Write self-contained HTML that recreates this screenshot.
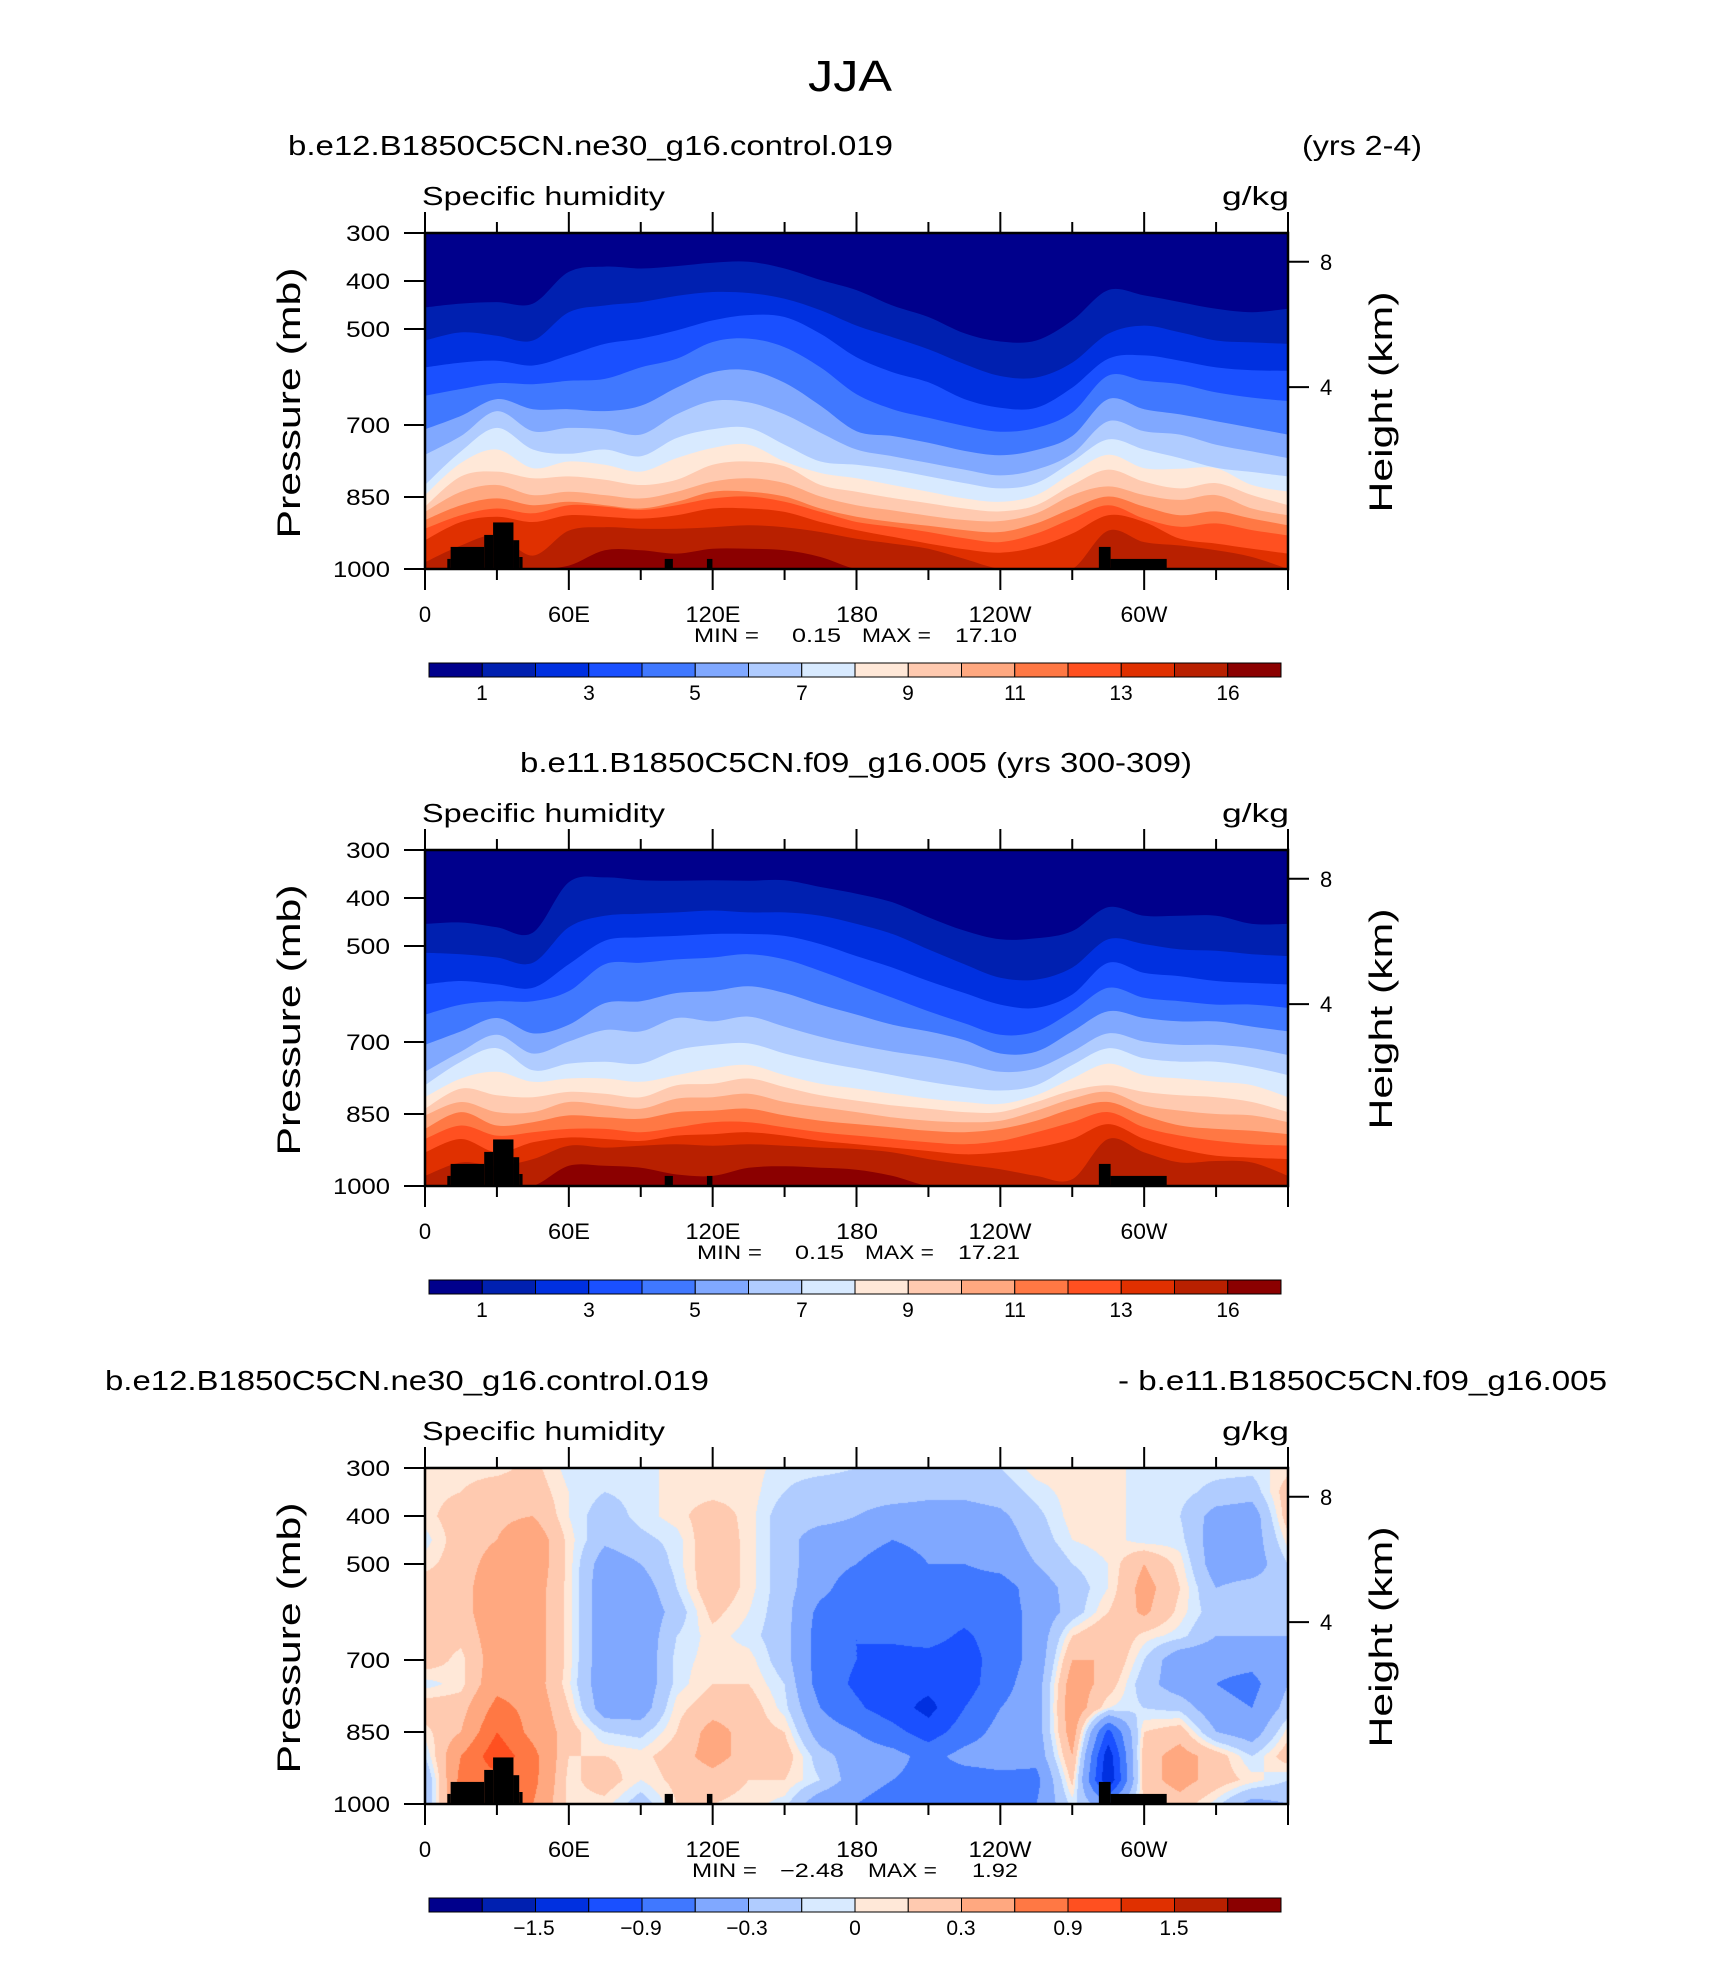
<!DOCTYPE html>
<html><head><meta charset="utf-8"><title>JJA Specific humidity</title>
<style>
html,body{margin:0;padding:0;background:#fff;}
#wrap{position:relative;width:1710px;height:1974px;overflow:hidden;background:#fff;}
#diff-canvas{position:absolute;left:425px;top:1468px;}
svg{position:absolute;left:0;top:0;}
text{font-family:"Liberation Sans",sans-serif;fill:#000;}
</style></head>
<body>
<div id="wrap">
<canvas id="diff-canvas" width="863" height="336"></canvas>
<svg id="fig" width="1710" height="1974" viewBox="0 0 1710 1974">
<text x="850" y="91" font-size="44" text-anchor="middle" textLength="84" lengthAdjust="spacingAndGlyphs">JJA</text>

<text x="288" y="155" font-size="28" textLength="605" lengthAdjust="spacingAndGlyphs">b.e12.B1850C5CN.ne30_g16.control.019</text>
<text x="1302" y="155" font-size="28" textLength="120" lengthAdjust="spacingAndGlyphs">(yrs 2-4)</text>
<text x="520" y="772" font-size="28" textLength="672" lengthAdjust="spacingAndGlyphs">b.e11.B1850C5CN.f09_g16.005 (yrs 300-309)</text>
<text x="105" y="1390" font-size="28" textLength="604" lengthAdjust="spacingAndGlyphs">b.e12.B1850C5CN.ne30_g16.control.019</text>
<text x="1118" y="1390" font-size="28" textLength="489" lengthAdjust="spacingAndGlyphs">- b.e11.B1850C5CN.f09_g16.005</text>

<g id="panel1-static">
<text x="422" y="205" font-size="26" textLength="243" lengthAdjust="spacingAndGlyphs">Specific humidity</text>
<text x="1222" y="205" font-size="26" textLength="67" lengthAdjust="spacingAndGlyphs">g/kg</text>
<g font-size="22" text-anchor="end">
<text x="390" y="241" textLength="44" lengthAdjust="spacingAndGlyphs">300</text>
<text x="390" y="289" textLength="44" lengthAdjust="spacingAndGlyphs">400</text>
<text x="390" y="337" textLength="44" lengthAdjust="spacingAndGlyphs">500</text>
<text x="390" y="433" textLength="44" lengthAdjust="spacingAndGlyphs">700</text>
<text x="390" y="505" textLength="44" lengthAdjust="spacingAndGlyphs">850</text>
<text x="390" y="577" textLength="57" lengthAdjust="spacingAndGlyphs">1000</text>
</g>
<g font-size="22">
<text x="1320" y="270">8</text><text x="1320" y="395">4</text>
</g>
<g font-size="22" text-anchor="middle">
<text x="425" y="622">0</text>
<text x="569" y="622" textLength="42" lengthAdjust="spacingAndGlyphs">60E</text>
<text x="713" y="622" textLength="55" lengthAdjust="spacingAndGlyphs">120E</text>
<text x="857" y="622" textLength="42" lengthAdjust="spacingAndGlyphs">180</text>
<text x="1000" y="622" textLength="63" lengthAdjust="spacingAndGlyphs">120W</text>
<text x="1144" y="622" textLength="47" lengthAdjust="spacingAndGlyphs">60W</text>
</g>
<g font-size="19">
<text x="694" y="642" textLength="65" lengthAdjust="spacingAndGlyphs">MIN =</text>
<text x="792" y="642" textLength="49" lengthAdjust="spacingAndGlyphs">0.15</text>
<text x="862" y="642" textLength="69" lengthAdjust="spacingAndGlyphs">MAX =</text>
<text x="955" y="642" textLength="62" lengthAdjust="spacingAndGlyphs">17.10</text>
</g>
<g font-size="21" text-anchor="middle">
<text x="482" y="700">1</text><text x="589" y="700">3</text><text x="695" y="700">5</text><text x="802" y="700">7</text>
<text x="908" y="700">9</text><text x="1015" y="700">11</text><text x="1121" y="700">13</text><text x="1228" y="700">16</text>
</g>
<text transform="translate(300,403) rotate(-90)" font-size="32" text-anchor="middle" textLength="271" lengthAdjust="spacingAndGlyphs">Pressure (mb)</text>
<text transform="translate(1392,402) rotate(-90)" font-size="32" text-anchor="middle" textLength="221" lengthAdjust="spacingAndGlyphs">Height (km)</text>
</g>

<g transform="translate(0,617)">
<text x="422" y="205" font-size="26" textLength="243" lengthAdjust="spacingAndGlyphs">Specific humidity</text>
<text x="1222" y="205" font-size="26" textLength="67" lengthAdjust="spacingAndGlyphs">g/kg</text>
<g font-size="22" text-anchor="end">
<text x="390" y="241" textLength="44" lengthAdjust="spacingAndGlyphs">300</text>
<text x="390" y="289" textLength="44" lengthAdjust="spacingAndGlyphs">400</text>
<text x="390" y="337" textLength="44" lengthAdjust="spacingAndGlyphs">500</text>
<text x="390" y="433" textLength="44" lengthAdjust="spacingAndGlyphs">700</text>
<text x="390" y="505" textLength="44" lengthAdjust="spacingAndGlyphs">850</text>
<text x="390" y="577" textLength="57" lengthAdjust="spacingAndGlyphs">1000</text>
</g>
<g font-size="22">
<text x="1320" y="270">8</text><text x="1320" y="395">4</text>
</g>
<g font-size="22" text-anchor="middle">
<text x="425" y="622">0</text>
<text x="569" y="622" textLength="42" lengthAdjust="spacingAndGlyphs">60E</text>
<text x="713" y="622" textLength="55" lengthAdjust="spacingAndGlyphs">120E</text>
<text x="857" y="622" textLength="42" lengthAdjust="spacingAndGlyphs">180</text>
<text x="1000" y="622" textLength="63" lengthAdjust="spacingAndGlyphs">120W</text>
<text x="1144" y="622" textLength="47" lengthAdjust="spacingAndGlyphs">60W</text>
</g>
<g font-size="19">
<text x="697" y="642" textLength="65" lengthAdjust="spacingAndGlyphs">MIN =</text>
<text x="795" y="642" textLength="49" lengthAdjust="spacingAndGlyphs">0.15</text>
<text x="865" y="642" textLength="69" lengthAdjust="spacingAndGlyphs">MAX =</text>
<text x="958" y="642" textLength="62" lengthAdjust="spacingAndGlyphs">17.21</text>
</g>
<g font-size="21" text-anchor="middle">
<text x="482" y="700">1</text><text x="589" y="700">3</text><text x="695" y="700">5</text><text x="802" y="700">7</text>
<text x="908" y="700">9</text><text x="1015" y="700">11</text><text x="1121" y="700">13</text><text x="1228" y="700">16</text>
</g>
<text transform="translate(300,403) rotate(-90)" font-size="32" text-anchor="middle" textLength="271" lengthAdjust="spacingAndGlyphs">Pressure (mb)</text>
<text transform="translate(1392,402) rotate(-90)" font-size="32" text-anchor="middle" textLength="221" lengthAdjust="spacingAndGlyphs">Height (km)</text>
</g>

<g transform="translate(0,1235)">
<text x="422" y="205" font-size="26" textLength="243" lengthAdjust="spacingAndGlyphs">Specific humidity</text>
<text x="1222" y="205" font-size="26" textLength="67" lengthAdjust="spacingAndGlyphs">g/kg</text>
<g font-size="22" text-anchor="end">
<text x="390" y="241" textLength="44" lengthAdjust="spacingAndGlyphs">300</text>
<text x="390" y="289" textLength="44" lengthAdjust="spacingAndGlyphs">400</text>
<text x="390" y="337" textLength="44" lengthAdjust="spacingAndGlyphs">500</text>
<text x="390" y="433" textLength="44" lengthAdjust="spacingAndGlyphs">700</text>
<text x="390" y="505" textLength="44" lengthAdjust="spacingAndGlyphs">850</text>
<text x="390" y="577" textLength="57" lengthAdjust="spacingAndGlyphs">1000</text>
</g>
<g font-size="22">
<text x="1320" y="270">8</text><text x="1320" y="395">4</text>
</g>
<g font-size="22" text-anchor="middle">
<text x="425" y="622">0</text>
<text x="569" y="622" textLength="42" lengthAdjust="spacingAndGlyphs">60E</text>
<text x="713" y="622" textLength="55" lengthAdjust="spacingAndGlyphs">120E</text>
<text x="857" y="622" textLength="42" lengthAdjust="spacingAndGlyphs">180</text>
<text x="1000" y="622" textLength="63" lengthAdjust="spacingAndGlyphs">120W</text>
<text x="1144" y="622" textLength="47" lengthAdjust="spacingAndGlyphs">60W</text>
</g>
<g font-size="19">
<text x="692" y="642" textLength="65" lengthAdjust="spacingAndGlyphs">MIN =</text>
<text x="780" y="642" textLength="64" lengthAdjust="spacingAndGlyphs">−2.48</text>
<text x="868" y="642" textLength="69" lengthAdjust="spacingAndGlyphs">MAX =</text>
<text x="972" y="642" textLength="46" lengthAdjust="spacingAndGlyphs">1.92</text>
</g>
<g font-size="21" text-anchor="middle">
<text x="534" y="700">−1.5</text><text x="641" y="700">−0.9</text><text x="747" y="700">−0.3</text><text x="855" y="700">0</text>
<text x="961" y="700">0.3</text><text x="1068" y="700">0.9</text><text x="1174" y="700">1.5</text>
</g>
<text transform="translate(300,403) rotate(-90)" font-size="32" text-anchor="middle" textLength="271" lengthAdjust="spacingAndGlyphs">Pressure (mb)</text>
<text transform="translate(1392,402) rotate(-90)" font-size="32" text-anchor="middle" textLength="221" lengthAdjust="spacingAndGlyphs">Height (km)</text>
</g>
</svg>
</div>
<script>
// ---------- data ----------
const lonSamples = [0,15,30,45,60,75,90,105,120,135,150,165,180,195,210,225,240,255,270,285,300,315,330,345,360];
const qLevels = [1,2,3,4,5,6,7,8,9,10,11,12,13,14,16];
const diffLevels = [-1.8,-1.5,-1.2,-0.9,-0.6,-0.3,-0.1,0,0.1,0.3,0.6,0.9,1.2,1.5,1.8];
const fillColors = ['#00008c','#0020b0','#0030e0','#1a50ff','#4078ff','#80a8ff','#b0ccff','#d8eaff','#ffe8d8','#ffcab0','#ffa880','#ff7844','#ff5020','#e03000','#b82000','#8b0000'];
const ctlContourP = [
[455,447,444,447,381,370,374,369,362,360,374,398,419,451,475,509,526,524,482,419,430,444,458,465,458],
[524,507,514,524,465,451,444,431,423,425,437,461,493,517,542,573,598,601,570,510,493,507,524,528,531],
[580,570,566,576,555,531,520,503,482,471,475,510,559,590,611,646,664,664,622,562,555,566,580,586,587],
[639,625,613,615,608,604,580,562,527,520,538,580,636,667,685,702,714,706,674,597,608,615,632,643,650],
[709,681,646,667,667,671,660,622,590,586,612,660,713,723,737,754,763,752,723,646,667,678,692,706,720],
[762,723,671,713,706,709,720,678,650,653,678,716,751,765,779,793,805,793,760,692,713,720,741,755,769],
[825,755,706,751,760,751,765,727,709,706,741,776,783,793,807,821,832,821,776,730,751,769,789,798,807],
[846,779,751,790,776,783,797,769,748,741,776,800,811,825,839,853,860,846,800,762,790,791,790,825,839],
[870,807,797,811,807,814,825,814,783,776,786,825,839,852,863,874,880,867,825,793,818,832,821,846,867],
[881,839,825,846,839,846,853,839,818,811,821,849,867,878,889,898,900,884,846,828,846,856,846,874,888],
[898,867,853,867,860,867,874,860,839,839,849,874,891,902,910,919,923,905,874,849,870,888,880,895,909],
[916,888,874,884,867,870,877,867,853,849,860,881,902,912,923,936,944,926,895,867,895,912,905,919,930],
[940,902,891,902,888,891,895,888,874,874,881,902,919,933,947,959,966,954,926,888,902,937,947,958,968],
[986,951,930,972,920,913,916,916,913,909,913,923,937,947,958,979,1005,1005,1005,920,944,951,961,975,1000],
[1007,1007,1007,1007,993,961,961,968,958,958,961,975,1007,1007,1007,1007,1007,1007,1007,1007,1007,1007,1007,1007,1007]
];
const refContourP = [
[454,451,461,472,367,357,363,364,363,364,363,377,391,409,440,468,486,484,469,419,437,437,437,454,454],
[514,517,524,535,461,437,433,430,426,430,430,437,454,475,507,538,566,570,545,486,496,507,510,517,521],
[580,573,580,587,538,489,482,479,475,475,479,496,521,545,573,598,622,629,601,535,556,563,573,577,580],
[643,622,615,615,594,538,535,528,524,517,528,552,580,608,636,661,685,678,636,587,608,615,622,622,629],
[706,678,650,682,664,619,615,598,594,584,598,622,643,664,678,696,724,720,678,636,650,657,657,668,678],
[762,720,685,724,699,675,678,650,657,647,668,689,706,720,731,745,762,755,720,682,699,706,706,713,727],
[790,741,713,759,745,741,745,717,706,703,724,741,755,769,783,794,801,790,748,713,734,741,741,752,769],
[815,776,762,783,776,776,783,769,755,748,769,787,797,808,818,825,829,811,776,745,769,776,783,790,815],
[839,797,811,815,804,808,815,790,787,776,794,811,822,832,839,846,846,825,801,790,804,811,815,825,846],
[853,825,846,846,825,832,839,818,815,808,825,836,846,857,864,867,864,843,818,804,832,843,850,853,867],
[881,846,874,867,853,857,860,846,843,839,853,864,871,878,885,888,881,864,839,825,853,874,881,885,892],
[902,874,895,888,881,881,888,878,867,867,878,888,895,902,909,913,906,888,867,846,878,895,906,913,916],
[930,902,930,909,899,902,906,895,892,888,895,906,913,920,927,934,930,920,902,871,902,923,937,941,944],
[979,951,958,944,916,920,916,913,916,913,916,920,923,930,944,955,965,979,986,902,930,951,948,951,979],
[1007,1007,1007,1007,958,958,962,976,979,962,959,962,966,979,1007,1007,1007,1007,1007,1007,1007,1007,1007,1007,1007]
];
const diffPressures = [300,350,400,450,500,550,600,650,700,750,800,850,900,950,1000];
const diffField = [
[0.05,0.05,0.05,-0.05,0.05,0.2,0.2,0.2,0.2,-0.05,0.2,0.05,-0.1,-0.3,-0.3],
[0.05,0.1,0.2,0.2,0.2,0.2,0.2,0.15,0.05,0.05,0.2,0.3,0.6,0.7,0.7],
[0.05,0.2,0.25,0.3,0.4,0.5,0.5,0.45,0.45,0.5,0.7,0.9,1.1,0.8,0.8],
[0.15,0.2,0.3,0.5,0.5,0.45,0.45,0.45,0.45,0.45,0.5,0.5,0.7,0.7,0.6],
[-0.05,0.0,0.0,0.05,0.05,0.05,0.05,0.05,0.05,0.02,0.1,0.2,0.1,0.05,0.05],
[-0.05,-0.1,-0.2,-0.25,-0.45,-0.5,-0.5,-0.5,-0.5,-0.5,-0.45,-0.1,0.1,0.2,0.05],
[-0.05,-0.05,-0.05,-0.15,-0.3,-0.45,-0.5,-0.5,-0.5,-0.5,-0.45,-0.15,0.05,0.0,-0.2],
[0.05,0.05,0.05,-0.05,-0.05,-0.1,-0.2,-0.1,-0.05,-0.05,0.05,0.1,0.2,0.15,0.1],
[0.05,0.05,0.2,0.25,0.25,0.25,0.15,0.05,0.05,0.1,0.2,0.4,0.4,0.2,0.1],
[0.05,0.05,0.05,0.05,0.05,0.05,0.0,-0.05,0.05,0.1,0.2,0.2,0.2,0.1,0.05],
[-0.05,-0.1,-0.2,-0.2,-0.2,-0.2,-0.2,-0.2,-0.2,-0.1,-0.05,0.1,0.2,0.1,-0.05],
[-0.05,-0.2,-0.2,-0.45,-0.45,-0.5,-0.7,-0.75,-0.75,-0.75,-0.6,-0.45,-0.2,-0.1,-0.5],
[-0.1,-0.2,-0.3,-0.45,-0.6,-0.8,-0.85,-0.9,-0.9,-0.95,-0.85,-0.6,-0.45,-0.45,-0.6],
[-0.1,-0.2,-0.4,-0.6,-0.8,-0.8,-0.8,-0.85,-1.0,-1.1,-1.05,-0.8,-0.5,-0.6,-0.75],
[-0.15,-0.25,-0.4,-0.5,-0.6,-0.75,-0.75,-0.8,-1.0,-1.1,-1.3,-1.05,-0.7,-0.7,-0.8],
[-0.15,-0.25,-0.4,-0.45,-0.6,-0.75,-0.8,-0.95,-1.05,-1.05,-0.9,-0.75,-0.5,-0.75,-0.8],
[-0.1,-0.2,-0.35,-0.45,-0.5,-0.75,-0.75,-0.75,-0.75,-0.7,-0.6,-0.5,-0.45,-0.7,-0.7],
[0.05,-0.05,-0.15,-0.2,-0.3,-0.45,-0.5,-0.5,-0.5,-0.45,-0.45,-0.45,-0.5,-0.7,-0.6],
[0.05,0.05,0.05,0.0,-0.1,-0.2,-0.2,0.1,0.3,0.45,0.5,0.45,0.3,0.15,-0.05],
[0.05,0.05,0.05,0.05,0.0,0.0,0.1,0.3,0.3,0.2,0.0,-1.0,-1.4,-1.5,-0.5],
[-0.05,-0.05,-0.05,-0.05,0.3,0.4,0.35,0.05,-0.1,-0.2,-0.1,0.1,0.2,0.2,0.1],
[-0.05,-0.05,-0.1,-0.05,0.05,0.1,0.05,-0.05,-0.5,-0.45,-0.15,0.2,0.4,0.4,0.2],
[-0.05,-0.15,-0.4,-0.45,-0.45,-0.3,-0.2,-0.3,-0.5,-0.6,-0.5,-0.3,0.2,0.2,-0.05],
[-0.05,-0.2,-0.45,-0.45,-0.45,-0.2,-0.1,-0.3,-0.5,-0.7,-0.6,-0.45,-0.1,0.05,-0.4],
[0.05,0.2,0.2,0.05,-0.1,-0.2,-0.2,-0.3,-0.3,-0.3,-0.2,0.05,0.2,-0.1,-0.3]
];
const topoLonStart = [9.3,10.7,24.7,28.4,36.9,39.3,100,117.6,281.1,286];
const topoLonEnd   = [10.7,24.7,28.4,36.9,39.3,40.7,103.4,119.9,286,309.4];
const topoPs       = [979,954,929,903,940,975,979,979,954,979];
const lonTicks = [0,30,60,90,120,150,180,210,240,270,300,330,360];
const pTicks = [300,400,500,700,850,1000];
const kmTicks = [8,4];
const kmTickP = [360,621];

// ---------- layout ----------
const PL=425, PW=863, PT=233, PH=336;
const svgNS='http://www.w3.org/2000/svg';
const svg=document.getElementById('fig');
function xOf(lon){return PL+lon/360*PW;}
function yOf(p){return PT+(Math.min(Math.max(p,300),1000)-300)/700*PH;}
function mk(tag,attrs,parent){const e=document.createElementNS(svgNS,tag);for(const k in attrs)e.setAttribute(k,attrs[k]);(parent||svg).appendChild(e);return e;}

function smoothPath(pts){
  let d='M'+pts[0][0]+','+pts[0][1];
  for(let i=0;i<pts.length-1;i++){
    const p0=pts[Math.max(i-1,0)],p1=pts[i],p2=pts[i+1],p3=pts[Math.min(i+2,pts.length-1)];
    const c1x=p1[0]+(p2[0]-p0[0])/6,c1y=p1[1]+(p2[1]-p0[1])/6;
    const c2x=p2[0]-(p3[0]-p1[0])/6,c2y=p2[1]-(p3[1]-p1[1])/6;
    d+=' C'+c1x.toFixed(1)+','+c1y.toFixed(1)+' '+c2x.toFixed(1)+','+c2y.toFixed(1)+' '+p2[0].toFixed(1)+','+p2[1].toFixed(1);
  }
  return d;
}

const defs=mk('defs',{});
[0,617,1235].forEach(function(dy,i){
  const cp=mk('clipPath',{id:'clip'+i},defs);
  mk('rect',{x:PL,y:PT+dy,width:PW,height:PH},cp);
});

function drawContours(bounds,dy,idx){
  const g=mk('g',{'clip-path':'url(#clip'+idx+')'});
  
  
  const base=mk('rect',{x:PL,y:PT+dy,width:PW,height:PH,fill:fillColors[0]},g);
  
  
  bounds.forEach(function(row,k){
    const pts=row.map(function(p,i){return [xOf(lonSamples[i]),yOf(p)+dy];});
    const d=smoothPath(pts)+' L'+(PL+PW)+','+(PT+PH+dy+2)+' L'+PL+','+(PT+PH+dy+2)+' Z';
    const path=mk('path',{d:d,fill:fillColors[k+1]},g);
    
    
  });
}
drawContours(ctlContourP,0,0);
drawContours(refContourP,617,1);

(function(){
  const cv=document.getElementById('diff-canvas');
  const ctx=cv.getContext('2d');
  const img=ctx.createImageData(PW,PH);
  const rgb=fillColors.map(function(c){return [parseInt(c.substr(1,2),16),parseInt(c.substr(3,2),16),parseInt(c.substr(5,2),16)];});
  const nL=lonSamples.length,nP=diffPressures.length;
  for(let py=0;py<PH;py++){
    const p=300+(py+0.5)/PH*700;
    let j=0;while(j<nP-2&&diffPressures[j+1]<p)j++;
    const ty=Math.min(Math.max((p-diffPressures[j])/(diffPressures[j+1]-diffPressures[j]),0),1);
    for(let px=0;px<PW;px++){
      const lon=(px+0.5)/PW*360;
      let i=0;while(i<nL-2&&lonSamples[i+1]<lon)i++;
      const tx=(lon-lonSamples[i])/(lonSamples[i+1]-lonSamples[i]);
      const v=(diffField[i][j]*(1-tx)+diffField[i+1][j]*tx)*(1-ty)+(diffField[i][j+1]*(1-tx)+diffField[i+1][j+1]*tx)*ty;
      let c=0;while(c<diffLevels.length&&v>=diffLevels[c])c++;
      const o=(py*PW+px)*4;img.data[o]=rgb[c][0];img.data[o+1]=rgb[c][1];img.data[o+2]=rgb[c][2];img.data[o+3]=255;
    }
  }
  ctx.putImageData(img,0,0);
})();

[0,617,1235].forEach(function(dy,idx){
  const tg=mk('g',{});
  
  
  topoPs.forEach(function(ps,k){
    const x0=xOf(topoLonStart[k]),x1=xOf(topoLonEnd[k]),y0=yOf(ps)+dy;
    const r=mk('rect',{x:x0,y:y0,width:x1-x0,height:PT+PH+dy-y0,fill:'#000'},tg);
    
    
  });
  const frame=mk('rect',{x:PL,y:PT+dy,width:PW,height:PH,fill:'none',stroke:'#000','stroke-width':2.5});
  
  
  const ticks=mk('g',{stroke:'#000','stroke-width':2});
  
  
  lonTicks.forEach(function(l){
    const len=(l%60===0)?21:11;const x=xOf(l);
    mk('line',{x1:x,x2:x,y1:PT+dy,y2:PT+dy-len},ticks);
    mk('line',{x1:x,x2:x,y1:PT+PH+dy,y2:PT+PH+dy+len},ticks);
  });
  pTicks.forEach(function(p){const y=yOf(p)+dy;mk('line',{x1:PL,x2:PL-21,y1:y,y2:y},ticks);});
  kmTickP.forEach(function(p){const y=yOf(p)+dy;mk('line',{x1:PL+PW,x2:PL+PW+21,y1:y,y2:y},ticks);});
  const cb=mk('g',{});
  
  
  const cx0=429,cw=(1281-429)/fillColors.length;
  fillColors.forEach(function(c,k){
    const r=mk('rect',{x:cx0+k*cw,y:663+dy,width:cw,height:14,fill:c,stroke:'#000','stroke-width':1},cb);
    
    
  });
});
</script>
</body></html>
